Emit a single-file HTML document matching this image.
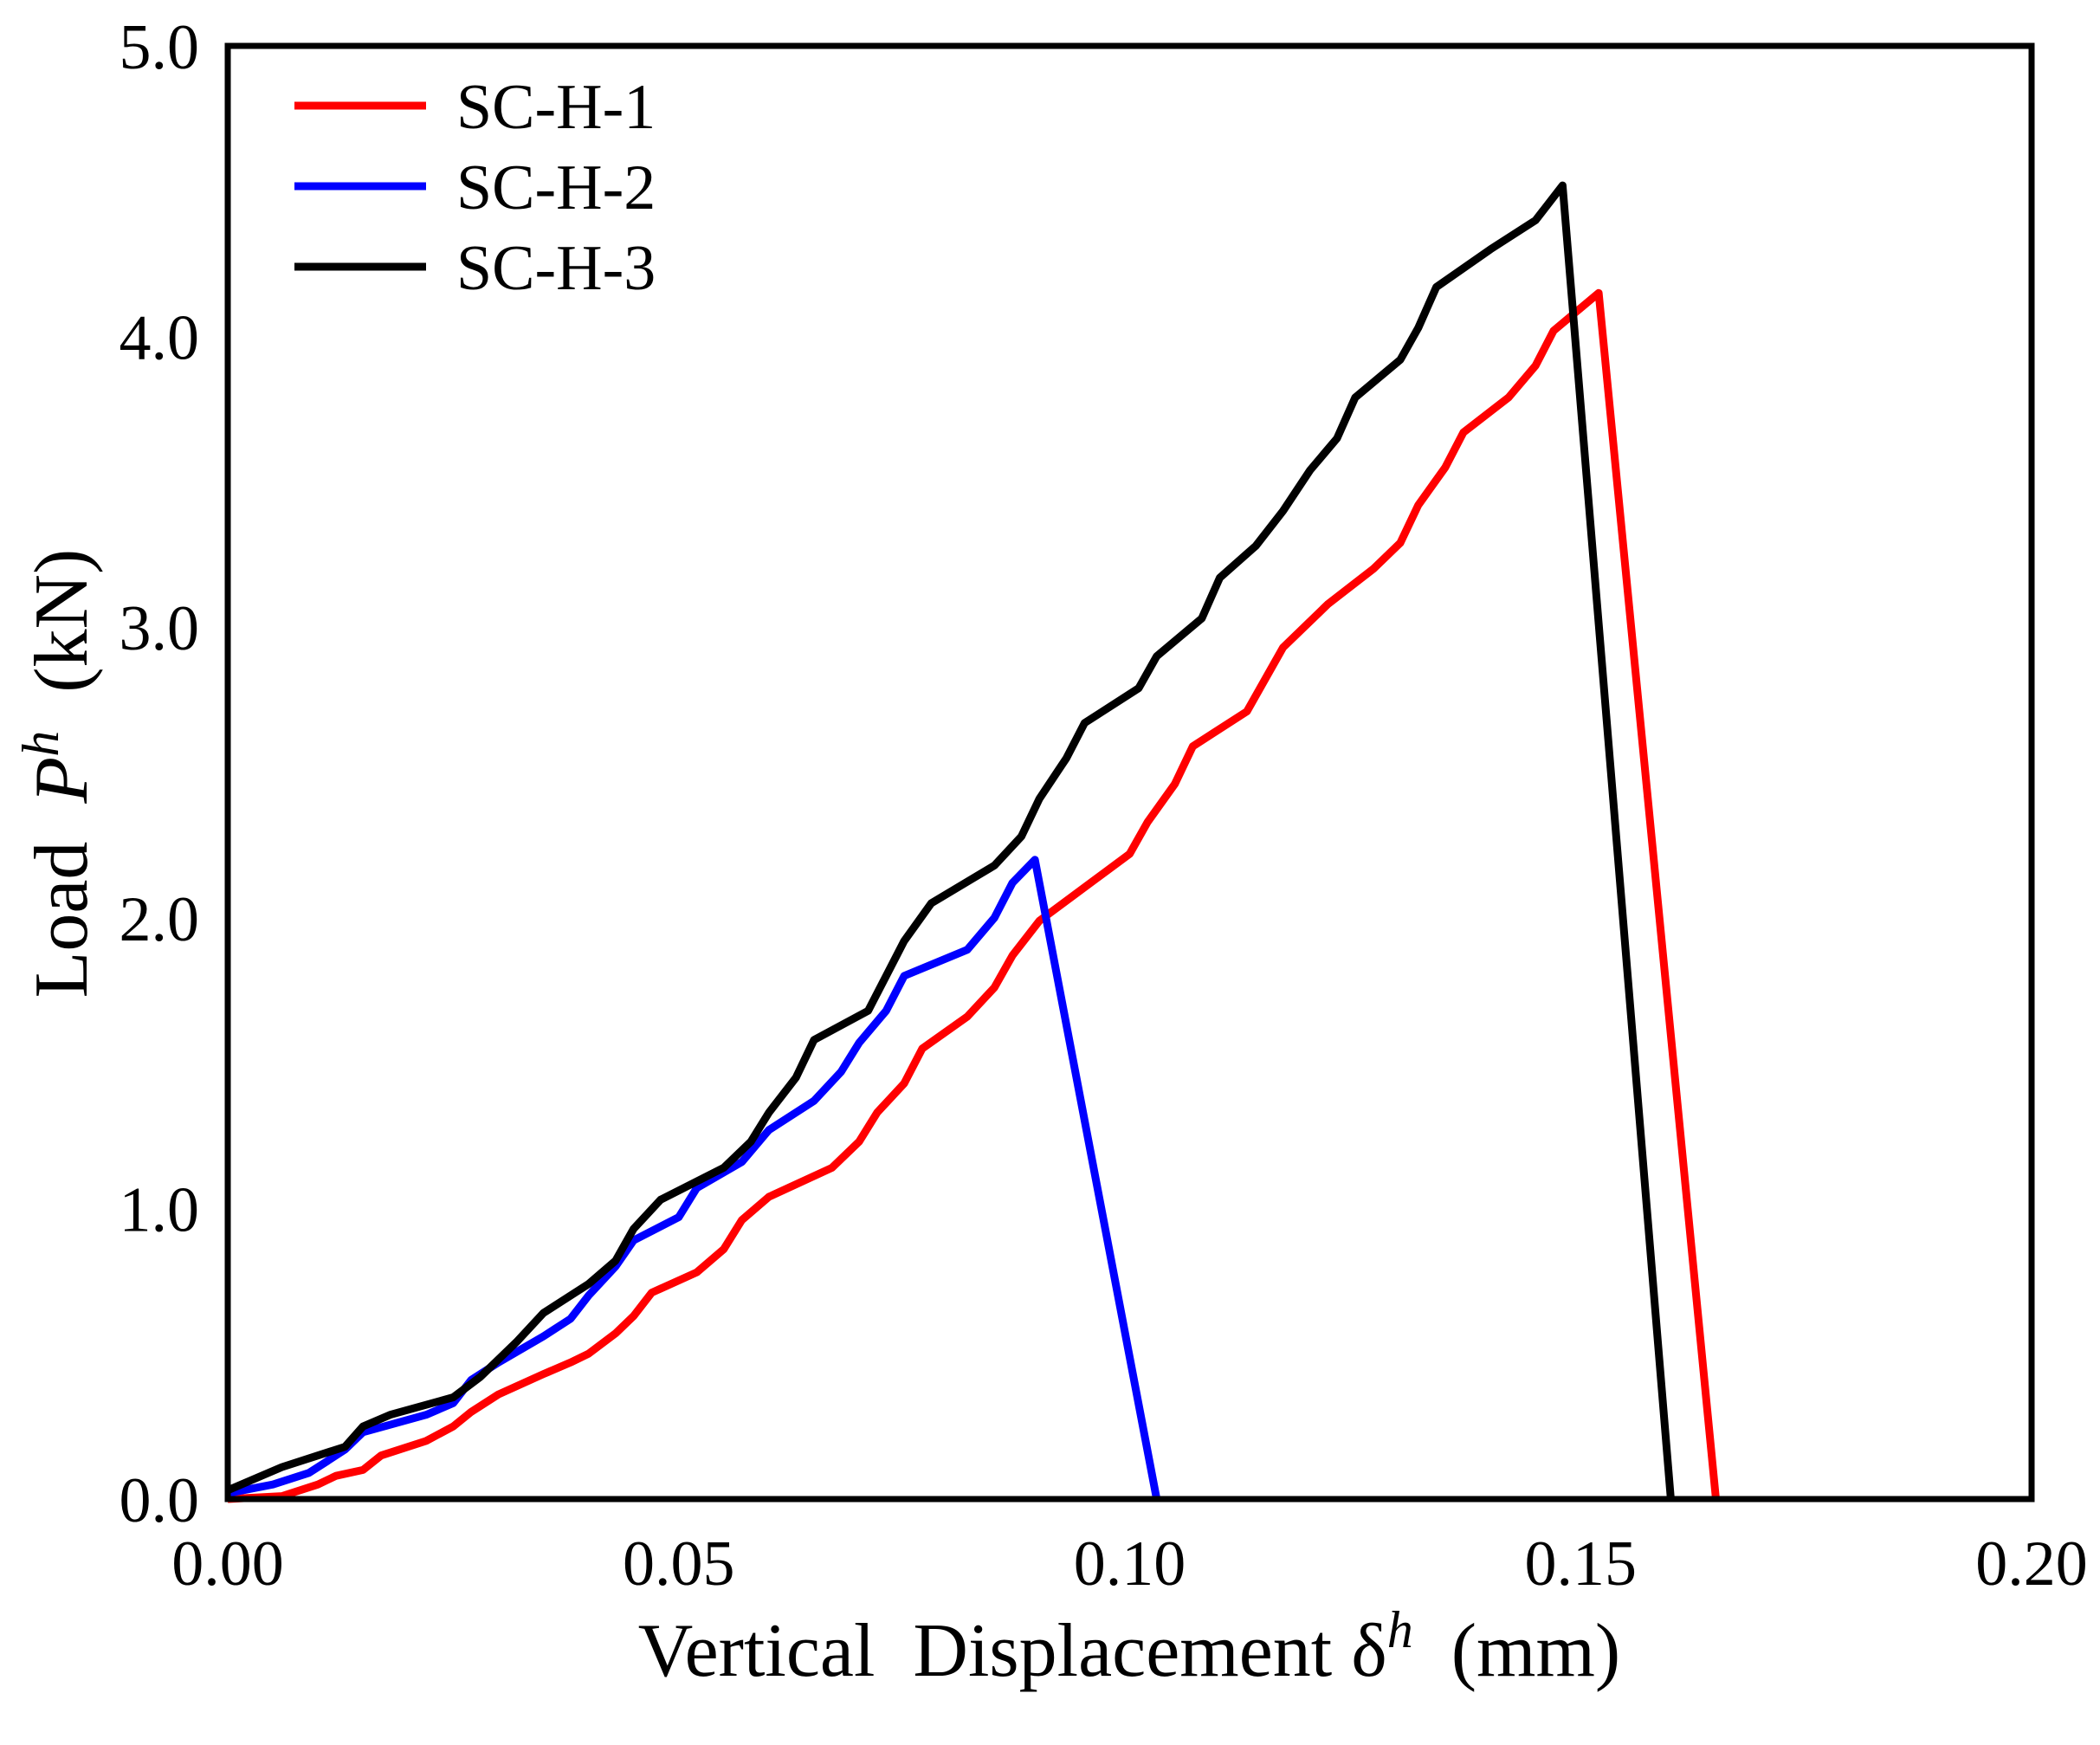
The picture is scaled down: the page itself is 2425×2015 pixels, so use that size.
<!DOCTYPE html>
<html><head><meta charset="utf-8"><style>
html,body{margin:0;padding:0;background:#fff;}
svg{display:block;font-family:"Liberation Serif",serif;}
</style></head><body>
<svg id="chart" width="2425" height="2015" viewBox="0 0 2425 2015" xmlns="http://www.w3.org/2000/svg">
<g id="plot"></g>
</svg>
<script>
const xTicks=[0,0.05,0.10,0.15,0.20];
const xTickLabels=["0.00","0.05","0.10","0.15","0.20"];
const yTicks=[0,1,2,3,4,5];
const yTickLabels=["0.0","1.0","2.0","3.0","4.0","5.0"];
const seriesNames=["SC-H-1","SC-H-2","SC-H-3"];
const seriesColors=["#ff0000","#0000ff","#000000"];
const h1x=[0,0.006,0.01,0.012,0.015,0.017,0.022,0.025,0.027,0.03,0.035,0.038,0.04,0.043,0.045,0.047,0.052,0.055,0.057,0.06,0.067,0.07,0.072,0.075,0.077,0.082,0.085,0.087,0.09,0.1,0.102,0.105,0.107,0.113,0.117,0.122,0.127,0.13,0.132,0.135,0.137,0.142,0.145,0.147,0.152,0.165];
const h1y=[0,0.01,0.05,0.08,0.1,0.15,0.2,0.25,0.3,0.36,0.43,0.47,0.5,0.57,0.63,0.71,0.78,0.86,0.96,1.04,1.14,1.23,1.33,1.43,1.55,1.66,1.76,1.87,1.99,2.22,2.33,2.46,2.59,2.71,2.93,3.08,3.2,3.29,3.42,3.55,3.67,3.79,3.9,4.02,4.15,0];
const h2x=[0,0.005,0.009,0.011,0.013,0.015,0.022,0.025,0.027,0.03,0.035,0.038,0.04,0.043,0.045,0.05,0.052,0.057,0.06,0.065,0.068,0.07,0.073,0.075,0.082,0.085,0.087,0.0895,0.103];
const h2y=[0.02,0.05,0.09,0.13,0.17,0.23,0.29,0.33,0.41,0.47,0.56,0.62,0.7,0.8,0.89,0.97,1.07,1.16,1.27,1.37,1.47,1.57,1.68,1.8,1.89,2.0,2.12,2.2,0];
const h3x=[0,0.003,0.006,0.01,0.013,0.015,0.018,0.025,0.028,0.032,0.035,0.04,0.043,0.045,0.048,0.055,0.058,0.06,0.063,0.065,0.071,0.073,0.075,0.078,0.085,0.088,0.09,0.093,0.095,0.101,0.103,0.108,0.11,0.114,0.117,0.12,0.123,0.125,0.13,0.132,0.134,0.14,0.145,0.148,0.16];
const h3y=[0.03,0.07,0.11,0.15,0.18,0.25,0.29,0.35,0.42,0.54,0.64,0.74,0.82,0.93,1.03,1.14,1.23,1.33,1.45,1.58,1.68,1.8,1.92,2.05,2.18,2.28,2.41,2.55,2.67,2.79,2.9,3.03,3.17,3.28,3.4,3.54,3.65,3.79,3.92,4.03,4.17,4.3,4.4,4.52,0];

const L=263,R=2346,T=53,B=1731;
const sx=v=>L+(v-0)/(0.2)*(R-L);
const sy=v=>B-(v/5)*(B-T);
const NS="http://www.w3.org/2000/svg";
const g=document.getElementById('plot');
function mk(tag,attrs,parent){const e=document.createElementNS(NS,tag);for(const k in attrs)e.setAttribute(k,attrs[k]);(parent||g).appendChild(e);return e;}

const xs=[h1x,h2x,h3x], ys=[h1y,h2y,h3y];
for(let s=0;s<3;s++){
  const pts=xs[s].map((x,i)=>sx(x).toFixed(1)+","+sy(ys[s][i]).toFixed(1)).join(" ");
  const pl=mk('polyline',{points:pts,fill:'none',stroke:seriesColors[s],'stroke-width':9,'stroke-linejoin':'round'});
  
  
}
const frame=mk('rect',{x:L,y:T,width:R-L,height:B-T,fill:'none',stroke:'#000','stroke-width':7});



xTicks.forEach((v,i)=>{
  const t=mk('text',{x:sx(v),y:1830,'font-size':74,'text-anchor':'middle'});
  t.textContent=xTickLabels[i];
  
  
});
yTicks.forEach((v,i)=>{
  const t=mk('text',{x:230,y:sy(v)+26,'font-size':74,'text-anchor':'end'});
  t.textContent=yTickLabels[i];
  
  
});

seriesNames.forEach((n,i)=>{
  const y=122+i*93;
  const ln=mk('line',{x1:340,x2:492,y1:y,y2:y,stroke:seriesColors[i],'stroke-width':9});
  
  
  const t=mk('text',{x:527,y:y+26,'font-size':74});
  t.textContent=n;
  
  
});
</script>
<svg style="position:absolute;left:0;top:0" width="2425" height="2015" xmlns="http://www.w3.org/2000/svg" font-family="Liberation Serif, serif">
<text x="1304" y="1935" font-size="88" text-anchor="middle" xml:space="preserve">Vertical  Displacement δ<tspan dy="-33" font-size="60" font-style="italic">h</tspan><tspan dy="33">  (mm)</tspan></text>
<text transform="translate(100,893) rotate(-90)" font-size="88" text-anchor="middle" xml:space="preserve">Load  <tspan font-style="italic">P</tspan><tspan dy="-33" font-size="60" font-style="italic">h</tspan><tspan dy="33">  (kN)</tspan></text>
</svg>
</body></html>
